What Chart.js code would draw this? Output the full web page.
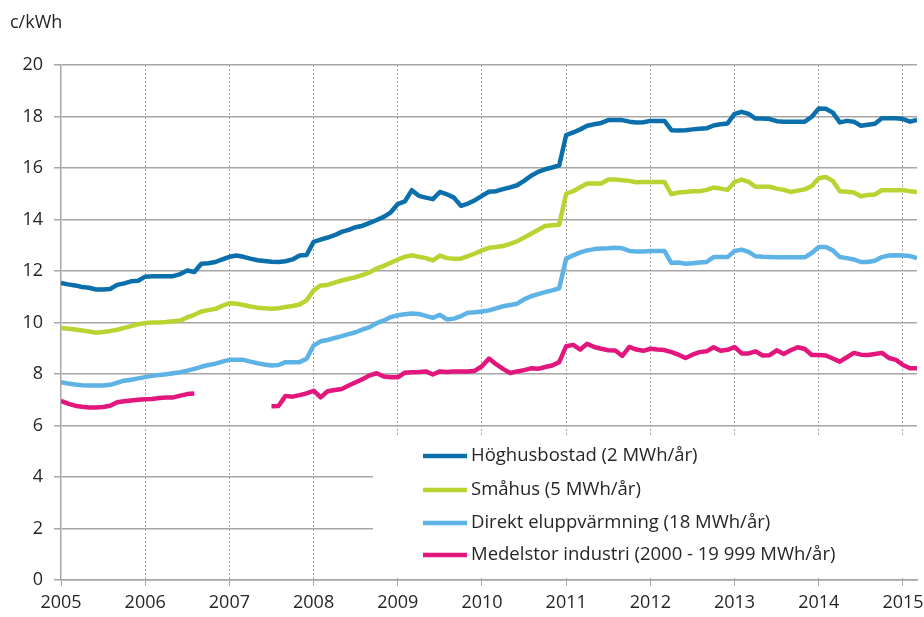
<!DOCTYPE html>
<html>
<head>
<meta charset="utf-8">
<script src="https://cdn.jsdelivr.net/npm/chart.js@4.4.1/dist/chart.umd.min.js"></script>
<style>
  html, body { margin: 0; padding: 0; background: #fff; }
  canvas { display: block; }
</style>
</head>
<body>
<canvas id="elpris" width="924" height="617"></canvas>
<script>
// year labels, one tick every 12 months starting Jan 2005
const years = ['2005', '2006', '2007', '2008', '2009', '2010', '2011', '2012', '2013', '2014', '2015']

const unit = 'c/kWh'

const labels = [
    'Höghusbostad (2 MWh/år)',
    'Småhus (5 MWh/år)',
    'Direkt eluppvärmning (18 MWh/år)',
    'Medelstor industri (2000 - 19 999 MWh/år)'
]

// monthly values, Jan 2005 .. Mar 2015
const hoghus = [
    11.54, 11.48, 11.44, 11.38, 11.35, 11.28, 11.28, 11.30, 11.46, 11.52, 11.60, 11.62,
    11.78, 11.80, 11.80, 11.80, 11.80, 11.88, 12.02, 11.96, 12.28, 12.30, 12.35, 12.45,
    12.55, 12.60, 12.55, 12.48, 12.42, 12.39, 12.36, 12.35, 12.38, 12.45, 12.60, 12.62,
    13.13, 13.22, 13.30, 13.39, 13.52, 13.60, 13.70, 13.76, 13.87, 13.98, 14.10, 14.28,
    14.60, 14.70, 15.14, 14.92, 14.85, 14.79, 15.07, 14.98, 14.85, 14.53, 14.62, 14.75,
    14.92, 15.08, 15.10, 15.18, 15.25, 15.33, 15.50, 15.70, 15.85, 15.95, 16.02, 16.10,
    17.28, 17.38, 17.50, 17.64, 17.70, 17.75, 17.86, 17.86, 17.86, 17.80, 17.77, 17.78,
    17.83, 17.83, 17.83, 17.47, 17.46, 17.47, 17.50, 17.52, 17.54, 17.65, 17.70, 17.73,
    18.10, 18.18, 18.10, 17.92, 17.92, 17.90, 17.82, 17.80, 17.80, 17.80, 17.80, 17.99,
    18.31, 18.30, 18.15, 17.77, 17.83, 17.80, 17.64, 17.68, 17.72, 17.93, 17.93, 17.93,
    17.90, 17.80, 17.87
]

const smahus = [
    9.79, 9.76, 9.73, 9.69, 9.65, 9.60, 9.63, 9.67, 9.72, 9.79, 9.86, 9.93,
    9.98, 10.00, 10.00, 10.02, 10.05, 10.08, 10.20, 10.30, 10.43, 10.48, 10.53, 10.65,
    10.75, 10.73, 10.68, 10.62, 10.57, 10.55, 10.53, 10.55, 10.60, 10.64, 10.70, 10.86,
    11.25, 11.44, 11.46, 11.55, 11.63, 11.70, 11.76, 11.85, 11.95, 12.10, 12.20, 12.32,
    12.45, 12.55, 12.61, 12.55, 12.50, 12.41, 12.60, 12.50, 12.48, 12.48, 12.58, 12.68,
    12.80, 12.90, 12.93, 12.97, 13.05, 13.15, 13.30, 13.45, 13.60, 13.75, 13.78, 13.80,
    15.00, 15.10, 15.25, 15.40, 15.40, 15.40, 15.55, 15.55, 15.52, 15.50, 15.45, 15.46,
    15.46, 15.46, 15.46, 14.98, 15.05, 15.07, 15.10, 15.10, 15.15, 15.24, 15.20, 15.15,
    15.46, 15.55, 15.46, 15.27, 15.27, 15.27, 15.20, 15.15, 15.07, 15.12, 15.17, 15.30,
    15.60, 15.65, 15.50, 15.10, 15.08, 15.05, 14.90, 14.95, 14.97, 15.14, 15.14, 15.14,
    15.14, 15.10, 15.07
]

const direkt = [
    7.68, 7.63, 7.59, 7.56, 7.55, 7.55, 7.55, 7.58, 7.66, 7.74, 7.78, 7.83,
    7.88, 7.93, 7.96, 7.99, 8.03, 8.07, 8.13, 8.20, 8.28, 8.35, 8.40, 8.48,
    8.55, 8.55, 8.55, 8.48, 8.42, 8.37, 8.33, 8.35, 8.46, 8.46, 8.46, 8.59,
    9.10, 9.27, 9.32, 9.40, 9.47, 9.55, 9.62, 9.73, 9.82, 9.98, 10.08, 10.21,
    10.28, 10.32, 10.35, 10.33, 10.26, 10.18, 10.30, 10.12, 10.15, 10.25, 10.38, 10.40,
    10.43, 10.47, 10.55, 10.63, 10.68, 10.73, 10.90, 11.02, 11.10, 11.18, 11.25, 11.33,
    12.48, 12.61, 12.72, 12.80, 12.85, 12.87, 12.88, 12.90, 12.88, 12.78, 12.76, 12.76,
    12.78, 12.78, 12.78, 12.31, 12.33, 12.28, 12.30, 12.33, 12.35, 12.54, 12.54, 12.54,
    12.78, 12.83, 12.74, 12.57, 12.55, 12.54, 12.53, 12.53, 12.53, 12.53, 12.53, 12.70,
    12.93, 12.93, 12.80, 12.54, 12.50, 12.45, 12.35, 12.35, 12.40, 12.54, 12.60, 12.61,
    12.60, 12.58, 12.50
]

const industri = [
    6.96, 6.85, 6.77, 6.73, 6.70, 6.70, 6.72, 6.77, 6.90, 6.94, 6.97, 7.00,
    7.02, 7.03, 7.07, 7.09, 7.09, 7.16, 7.22, 7.24, null, null, null, null,
    null, null, null, null, null, null, 6.75, 6.76, 7.15, 7.12, 7.18, 7.25,
    7.35, 7.09, 7.33, 7.38, 7.42, 7.55, 7.68, 7.80, 7.95, 8.03, 7.90, 7.87,
    7.87, 8.05, 8.07, 8.08, 8.10, 7.98, 8.10, 8.08, 8.10, 8.10, 8.10, 8.13,
    8.30, 8.60, 8.38, 8.20, 8.04, 8.10, 8.15, 8.22, 8.20, 8.27, 8.33, 8.46,
    9.08, 9.13, 8.95, 9.17, 9.05, 8.98, 8.92, 8.91, 8.70, 9.05, 8.95, 8.90,
    8.98, 8.95, 8.93, 8.85, 8.75, 8.62, 8.75, 8.85, 8.88, 9.04, 8.90, 8.94,
    9.05, 8.80, 8.80, 8.88, 8.72, 8.73, 8.92, 8.78, 8.92, 9.04, 8.97, 8.74,
    8.74, 8.72, 8.60, 8.48, 8.65, 8.82, 8.75, 8.74, 8.78, 8.82, 8.62, 8.55,
    8.35, 8.22, 8.22
]

const colors = ['#0a6fab', '#b8d432', '#5eb3e6', '#e2167c']
const font_family = `'Open Sans', 'Liberation Sans', sans-serif`
const text_color = `#262626`
const grid_color = `#a6a6a6`

const to_points = (values) => values.map((v, i) => ({ x: i, y: v }))

// white legend panel drawn over the grid, then the entries
const legend_panel = {
    id: `legendPanel`,
    beforeDatasetsDraw(chart) {
        const { ctx, chartArea } = chart
        ctx.save()
        ctx.fillStyle = `#ffffff`
        ctx.fillRect(373, 437, chartArea.right - 373 + 3, chartArea.bottom - 437 - 2)
        ctx.restore()
    },
    afterDraw(chart) {
        const { ctx } = chart
        const rows = [456, 490, 523, 555]
        ctx.save()
        ctx.font = `18.5px ${font_family}`
        ctx.fillStyle = text_color
        ctx.textBaseline = `middle`
        chart.data.datasets.forEach((ds, i) => {
            ctx.strokeStyle = ds.borderColor
            ctx.lineWidth = 4.5
            ctx.beginPath()
            ctx.moveTo(423, rows[i])
            ctx.lineTo(467, rows[i])
            ctx.stroke()
            ctx.fillText(ds.label, 471, rows[i])
        })
        ctx.font = `18px ${font_family}`
        ctx.fillText(unit, 10, 23)
        ctx.restore()
    }
}

const make_dataset = (label, values, color) => ({
    label: label,
    data: to_points(values),
    borderColor: color,
    backgroundColor: color,
    borderWidth: 4.5,
    pointRadius: 0,
    tension: 0,
    spanGaps: false,
    borderJoinStyle: `round`
})

const chart = new Chart(document.getElementById(`elpris`).getContext(`2d`), {
    type: `line`,
    data: {
        datasets: [
            make_dataset(labels[0], hoghus, colors[0]),
            make_dataset(labels[1], smahus, colors[1]),
            make_dataset(labels[2], direkt, colors[2]),
            make_dataset(labels[3], industri, colors[3])
        ]
    },
    options: {
        responsive: false,
        animation: false,
        layout: { padding: { top: 65, right: 7, left: 0, bottom: 0 } },
        plugins: {
            legend: { display: false },
            tooltip: { enabled: false }
        },
        scales: {
            x: {
                type: `linear`,
                min: 0,
                max: hoghus.length - 1,
                afterBuildTicks: (scale) => {
                    scale.ticks = years.map((y, i) => ({ value: i * 12 }))
                },
                afterFit: (scale) => {
                    scale.height = 37
                    scale.paddingLeft = 0
                    scale.paddingRight = 0
                },
                ticks: {
                    callback: (v) => years[Math.round(v / 12)],
                    font: { family: font_family, size: 18 },
                    color: text_color,
                    padding: 6,
                    maxRotation: 0,
                    autoSkip: false
                },
                grid: {
                    color: (c) => (c.tick && c.tick.value === 0) ? `rgba(0,0,0,0)` : grid_color,
                    lineWidth: 1,
                    tickLength: 6,
                    tickColor: grid_color,
                    tickBorderDash: []
                },
                border: { color: grid_color, width: 1.5, dash: [2, 2] }
            },
            y: {
                min: 0,
                max: 20,
                afterFit: (scale) => { scale.width = 61 },
                ticks: {
                    stepSize: 2,
                    font: { family: font_family, size: 18 },
                    color: text_color,
                    padding: 11
                },
                grid: {
                    color: grid_color,
                    lineWidth: 1.5,
                    tickLength: 7
                },
                border: { color: grid_color, width: 1.5 }
            }
        }
    },
    plugins: [legend_panel]
})
</script>
</body>
</html>
